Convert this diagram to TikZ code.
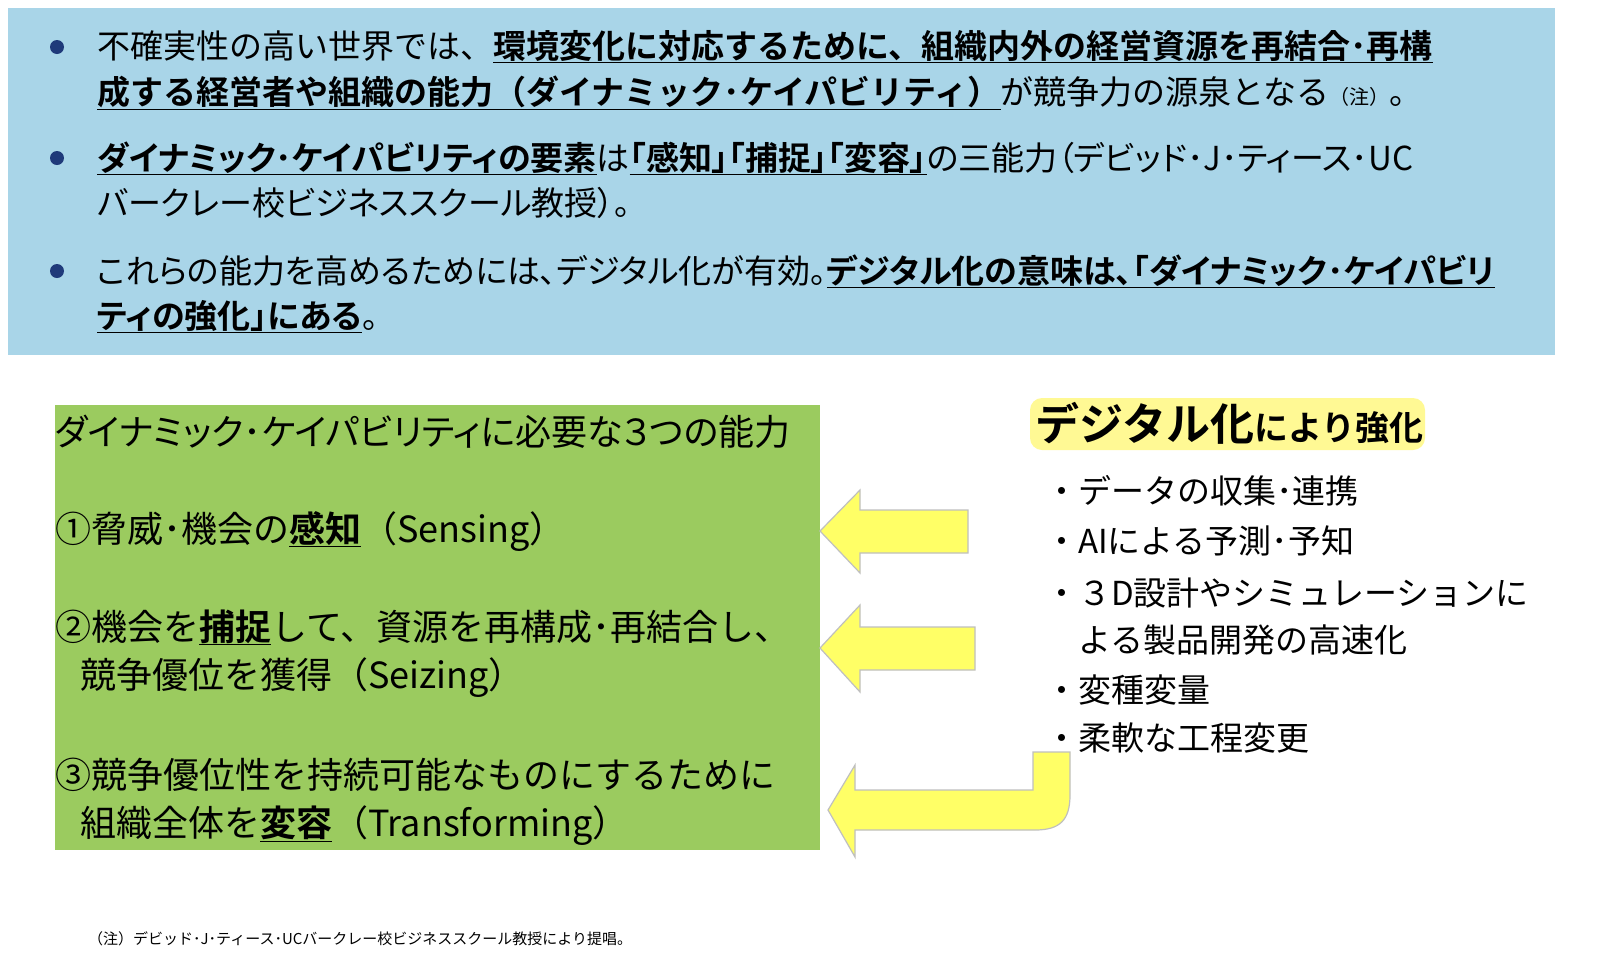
\documentclass[tikz,border=0pt]{standalone}
\usepackage{fontspec}
\setmainfont{Noto Sans CJK JP}[BoldFont={Noto Sans CJK JP Bold}]
\newfontfamily\jpp{Noto Sans CJK JP}[BoldFont={Noto Sans CJK JP Bold},RawFeature=+palt]
\definecolor{topblue}{HTML}{A9D5E8}
\definecolor{boxgreen}{HTML}{9BCB5F}
\definecolor{arrowyel}{HTML}{FFFF66}
\definecolor{bulletblue}{HTML}{1F3A7A}
\newcommand{\ub}[1]{\textbf{\underline{#1}}}
\begin{document}
\begin{tikzpicture}[x=1pt,y=-1pt,
  ln/.style={anchor=base west,inner sep=0,font=\fontsize{33}{38}\selectfont},
  gl/.style={anchor=base west,inner sep=0,font=\fontsize{36}{42}\selectfont},
  rl/.style={anchor=base west,inner sep=0,font=\fontsize{33}{40}\selectfont},
  bul/.style={circle,fill=bulletblue,inner sep=0,minimum size=14},
  yarrow/.style={fill=arrowyel,draw=black!25,line width=1.2}]
\useasboundingbox (0,0) rectangle (1600,975);
\clip (0,0) rectangle (1600,975);
\fill[white] (0,0) rectangle (1600,975);
\node[fill=topblue,minimum width=1547,minimum height=347,anchor=north west,inner sep=0] (top) at (8,8) {};
\node[bul] (b1) at (57,47) {};
\node[bul] (b2) at (57,158) {};
\node[bul] (b3) at (57,271) {};
\node[ln] (t1a) at (97,58) {不確実性の高い世界では、\ub{環境変化に対応するために、組織内外の経営資源を再結合･再構}};
\node[ln] (t1b) at (97,104) {\ub{成する経営者や組織の能力（ダイナミック･ケイパビリティ）}が競争力の源泉となる{\fontsize{20}{24}\selectfont（注）}。};
\node[ln] (t2a) at (97,170) {\jpp\ub{ダイナミック･ケイパビリティの要素}は\ub{「感知」「捕捉」「変容」}の三能力（デビッド･J･ティース･UC};
\node[ln] (t2b) at (97,215) {\jpp バークレー校ビジネススクール教授）。};
\node[ln] (t3a) at (97,283) {\jpp これらの能力を高めるためには、デジタル化が有効。\ub{デジタル化の意味は、「ダイナミック･ケイパビリ}};
\node[ln] (t3b) at (97,328) {\jpp\ub{ティの強化」にある}。};

\node[fill=boxgreen,minimum width=765,minimum height=445,anchor=north west,inner sep=0] (green) at (55,405) {};
\node[gl] (g0) at (55,445) {\jpp ダイナミック･ケイパビリティに必要な３つの能力};
\node[gl] (g1) at (55,542) {①脅威･機会の\ub{感知}（Sensing）};
\node[gl] (g2a) at (55,640) {②機会を\ub{捕捉}して、資源を再構成･再結合し、};
\node[gl] (g2b) at (80,688) {競争優位を獲得（Seizing）};
\node[gl] (g3a) at (55,788) {③競争優位性を持続可能なものにするために};
\node[gl] (g3b) at (80,836) {組織全体を\ub{変容}（Transforming）};

\draw[yarrow] (820,531) -- (860,490) -- (860,510) -- (968,510) -- (968,553) -- (860,553) -- (860,573) -- cycle;
\draw[yarrow] (820,648) -- (860,605) -- (860,627) -- (975,627) -- (975,670) -- (860,670) -- (860,692) -- cycle;
\draw[yarrow] (828,810) -- (855,765) -- (855,790) -- (1033,790) -- (1033,752) -- (1070,752) -- (1070,795) .. controls (1070,820) and (1060,830) .. (1035,830) -- (855,830) -- (855,857) -- cycle;

\fill[yellow!70,opacity=0.6,rounded corners=12] (1030,398) rectangle (1425,450);
\node[anchor=base west,inner sep=0] (title) at (1035,440) {\textbf{{\fontsize{44}{50}\selectfont デジタル化}{\fontsize{34}{40}\selectfont により強化}}};
\node[rl] (r1) at (1045,503) {・データの収集･連携};
\node[rl] (r2) at (1045,553) {・AIによる予測･予知};
\node[rl] (r3a) at (1045,605) {・３D設計やシミュレーションに};
\node[rl] (r3b) at (1078,652) {よる製品開発の高速化};
\node[rl] (r4) at (1045,702) {・変種変量};
\node[rl] (r5) at (1045,750) {・柔軟な工程変更};

\node[anchor=base west,inner sep=0,font=\fontsize{15}{18}\selectfont] (fn) at (88,944) {（注）デビッド･J･ティース･UCバークレー校ビジネススクール教授により提唱。};
\end{tikzpicture}
\end{document}
